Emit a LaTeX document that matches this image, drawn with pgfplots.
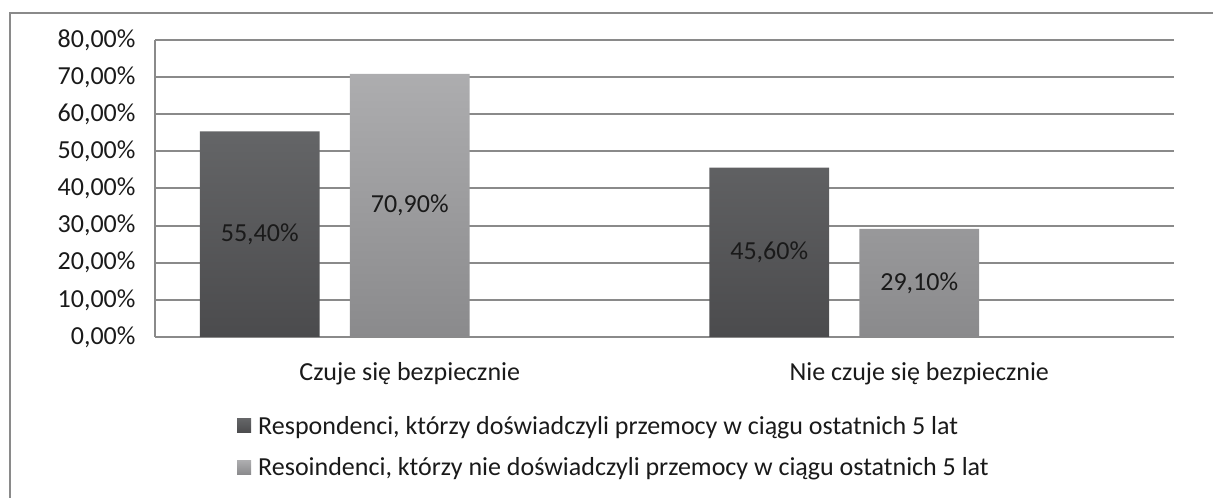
\documentclass[border=0pt]{standalone}
\usepackage{fontspec}
\setmainfont{Carlito}
\usepackage{pgfplots}
\pgfplotsset{compat=1.18}
\definecolor{darktop}{HTML}{646567}
\definecolor{darkbot}{HTML}{4B4B4D}
\definecolor{lighttop}{HTML}{ADADAF}
\definecolor{lightbot}{HTML}{8A8A8C}
\definecolor{gridgray}{HTML}{8A8A8A}
\definecolor{txt}{HTML}{1A1A1A}
\newcommand{\fs}{\fontsize{26}{31}\selectfont}

\begin{document}
\begin{tikzpicture}
\useasboundingbox (0,0) rectangle (1213pt,498pt);
% outer chart frame (right and bottom edges are outside the picture)
\draw[gridgray, line width=2pt] (10pt,0pt) -- (10pt,485pt) -- (1215pt,485pt);
\begin{axis}[
  at={(155pt,161pt)}, anchor=south west,
  scale only axis, width=1019pt, height=297pt,
  ybar,
  bar width=0.2355,
  xmin=-0.5, xmax=1.5,
  ymin=0, ymax=80,
  ytick={0,10,...,80},
  xtick={0,1},
  xticklabels={Czuje się bezpiecznie, Nie czuje się bezpiecznie},
  axis lines*=left,
  axis line style={gridgray, line width=1.5pt},
  ymajorgrids, grid style={gridgray, line width=2pt},
  major tick length=0pt,
  /pgf/number format/assume math mode=true,
  yticklabel={\pgfmathprintnumber[fixed,fixed zerofill,precision=2,use comma]{\tick}\%},
  yticklabel style={font=\fs, text=txt, xshift=-16pt},
  xticklabel style={font=\fs, text=txt, yshift=-22pt},
  legend style={at={(0.0805,-0.259)}, anchor=north west, draw=none, fill=none,
    font=\fs, text=txt, inner sep=0pt, row sep=18pt, legend cell align=left},
  visualization depends on={y \as \rawy},
  nodes near coords={\pgfmathprintnumber[fixed,fixed zerofill,precision=2,use comma]{\pgfplotspointmeta}\%},
  every node near coord/.append style={font=\fs, text=txt, anchor=center, yshift={-1.856*\rawy}},
]
\addplot[bar shift=-0.2944, draw=none, top color=darktop, bottom color=darkbot,
  legend image code/.code={\path (0pt,0pt) -- (19pt,0pt);
    \path[top color=darktop, bottom color=darkbot] (0pt,-7pt) rectangle (14pt,7pt);}]
  coordinates {(0,55.4) (1,45.6)};
\addlegendentry{Respondenci, którzy doświadczyli przemocy w ciągu ostatnich 5 lat}
\addplot[bar shift=0, draw=none, top color=lighttop, bottom color=lightbot,
  legend image code/.code={\path (0pt,0pt) -- (19pt,0pt);
    \path[top color=lighttop, bottom color=lightbot] (0pt,-7pt) rectangle (14pt,7pt);}]
  coordinates {(0,70.9) (1,29.1)};
\addlegendentry{Resoindenci, którzy nie doświadczyli przemocy w ciągu ostatnich 5 lat}
\end{axis}
\end{tikzpicture}
\end{document}
